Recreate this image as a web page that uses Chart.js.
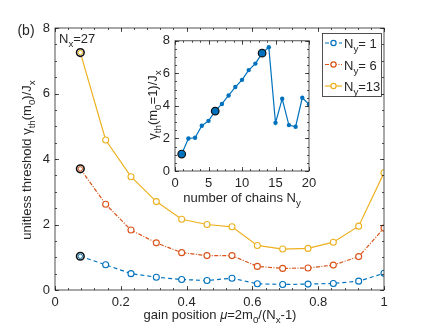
<!DOCTYPE html>
<html lang="en">
<head>
<meta charset="UTF-8">
<title>Gain threshold</title>
<script src="https://cdn.jsdelivr.net/npm/chart.js"></script>
<style>
    body { margin: 0; background: #fff; }
    #wrap { position: relative; width: 428px; height: 330px; }
    #main { position: absolute; left: 0; top: 0; }
    #inset { position: absolute; left: 130px; top: 28px; }
</style>
</head>
<body>
<div id="wrap">
    <canvas id="main" width="428" height="330"></canvas>
    <canvas id="inset" width="195" height="182"></canvas>
</div>
<script>
// gain position mu = 2 m0 / (Nx - 1), Nx = 27
const mu = [0.077, 0.154, 0.231, 0.308, 0.385, 0.462, 0.538, 0.615, 0.692, 0.769, 0.846, 0.923, 1.0];
const ny1 = [1.03, 0.77, 0.50, 0.39, 0.32, 0.29, 0.36, 0.19, 0.17, 0.18, 0.20, 0.27, 0.51];
const ny6 = [3.70, 2.62, 1.83, 1.44, 1.14, 1.05, 1.05, 0.72, 0.66, 0.67, 0.76, 1.02, 1.89];
const ny13 = [7.25, 4.58, 3.46, 2.70, 2.16, 2.00, 1.93, 1.36, 1.25, 1.27, 1.46, 1.95, 3.58];
const seriesNames = ['1', '6', '13'];

// inset: threshold at m0 = 1 vs number of chains
const chains = [1, 2, 3, 4, 5, 6, 7, 8, 9, 10, 11, 12, 13, 14, 15, 16, 17, 18, 19, 20];
const thrM1 = [1.04, 2.0, 2.04, 2.78, 3.08, 3.68, 4.12, 4.64, 5.16, 5.6, 6.2, 6.6, 7.24, 7.6, 2.96, 4.44, 2.82, 2.72, 4.5, 4.1];
const marked = [1, 6, 13];

const INK = '#262626';
const FONT = '"Liberation Sans", Arial, sans-serif';
const BLUE = '#0072BD', ORANGE = '#D95319', YELLOW = '#EDB120';

// draw text with subscripts: parts = [[text, 'n'|'s'|'i'], ...]
function rich(ctx, parts, x, y, size, align) {
    const fontFor = (k) => (k === 'i' ? 'italic ' : '') + (k === 's' ? size * 0.75 : size) + 'px ' + FONT;
    let w = 0;
    parts.forEach(p => { ctx.font = fontFor(p[1]); w += ctx.measureText(p[0]).width; });
    let cx = align === 'center' ? x - w / 2 : x;
    ctx.textAlign = 'left';
    ctx.textBaseline = 'alphabetic';
    parts.forEach(p => {
        ctx.font = fontFor(p[1]);
        ctx.fillText(p[0], cx, p[1] === 's' ? y + size * 0.32 : y);
        cx += ctx.measureText(p[0]).width;
    });
}

function rotated(ctx, parts, x, y, size) {
    ctx.save();
    ctx.translate(x, y);
    ctx.rotate(-Math.PI / 2);
    rich(ctx, parts, 0, size * 0.35, size, 'center');
    ctx.restore();
}

// box + inward major/minor ticks on all four sides
function drawFrame(chart, xMinor, yMinor) {
    const { ctx, chartArea: a, scales } = chart;
    const xs = scales.x, ys = scales.y;
    ctx.save();
    ctx.strokeStyle = INK;
    ctx.lineWidth = 0.8;
    ctx.strokeRect(a.left, a.top, a.right - a.left, a.bottom - a.top);
    ctx.beginPath();
    const tick = (v, len, horiz) => {
        if (horiz) {
            const p = Math.round(xs.getPixelForValue(v)) + 0.5;
            ctx.moveTo(p, a.bottom); ctx.lineTo(p, a.bottom - len);
            ctx.moveTo(p, a.top); ctx.lineTo(p, a.top + len);
        } else {
            const p = Math.round(ys.getPixelForValue(v)) + 0.5;
            ctx.moveTo(a.left, p); ctx.lineTo(a.left + len, p);
            ctx.moveTo(a.right, p); ctx.lineTo(a.right - len, p);
        }
    };
    for (let v = xs.min; v <= xs.max + 1e-9; v += xMinor) tick(v, 2, true);
    for (let v = ys.min; v <= ys.max + 1e-9; v += yMinor) tick(v, 2, false);
    xs.ticks.forEach(t => tick(t.value, 4, true));
    ys.ticks.forEach(t => tick(t.value, 4, false));
    ctx.stroke();
    ctx.restore();
}

const mainDecor = {
    id: 'mainDecor',
    afterDraw(chart) {
        const ctx = chart.ctx;
        drawFrame(chart, 0.04, 0.5);
        ctx.save();
        ctx.fillStyle = INK;
        ctx.font = '14px ' + FONT;
        ctx.textAlign = 'center';
        ctx.textBaseline = 'middle';
        ctx.fillText('(b)', 26, 31);
        rich(ctx, [['N', 'n'], ['x', 's'], ['=27', 'n']], 59, 43, 13, 'left');
        rich(ctx, [['gain position ', 'n'], ['μ', 'i'], ['=2m', 'n'], ['0', 's'], ['/(N', 'n'], ['x', 's'], ['-1)', 'n']], 220, 319, 13, 'center');
        rotated(ctx, [['unitless threshold ', 'n'], ['γ', 'n'], ['th', 's'], ['(m', 'n'], ['0', 's'], [')/J', 'n'], ['x', 's']], 26, 160, 13);

        // legend
        const lx = 322, ly = 33, lw = 59, lh = 63;
        ctx.fillStyle = '#fff';
        ctx.fillRect(lx, ly, lw, lh);
        ctx.strokeStyle = INK;
        ctx.lineWidth = 0.8;
        ctx.strokeRect(lx + 0.5, ly + 0.5, lw, lh);
        chart.data.datasets.forEach((ds, i) => {
            const y = ly + 10 + i * 21.5;
            ctx.strokeStyle = ds.borderColor;
            ctx.lineWidth = 1.2;
            ctx.setLineDash(ds.borderDash || []);
            ctx.beginPath();
            ctx.moveTo(lx + 3, y); ctx.lineTo(lx + 20, y);
            ctx.stroke();
            ctx.setLineDash([]);
            ctx.fillStyle = '#fff';
            ctx.beginPath();
            ctx.arc(lx + 11.5, y, 2.6, 0, Math.PI * 2);
            ctx.fill();
            ctx.stroke();
            ctx.fillStyle = INK;
            const n = seriesNames[i];
            rich(ctx, [['N', 'n'], ['y', 's'], ['=' + (n.length < 2 ? ' ' : '') + n, 'n']], lx + 22, y + 5, 13, 'left');
        });

        // highlighted first points: inner coloured ring
        chart.data.datasets.forEach((ds, i) => {
            const el = chart.getDatasetMeta(i).data[0];
            ctx.strokeStyle = ds.borderColor;
            ctx.lineWidth = 1;
            ctx.beginPath();
            ctx.arc(el.x, el.y, 2.2, 0, Math.PI * 2);
            ctx.stroke();
        });
        ctx.restore();
    }
};

const insetDecor = {
    id: 'insetDecor',
    beforeDatasetsDraw(chart) {
        const a = chart.chartArea;
        chart.ctx.save();
        chart.ctx.fillStyle = '#fff';
        chart.ctx.fillRect(a.left, a.top, a.right - a.left, a.bottom - a.top);
        chart.ctx.restore();
    },
    afterDraw(chart) {
        const ctx = chart.ctx;
        drawFrame(chart, 1.25, 0.5);
        ctx.save();
        ctx.fillStyle = INK;
        rich(ctx, [['number of chains N', 'n'], ['y', 's']], 112, 174, 13, 'center');
        rotated(ctx, [['γ', 'n'], ['th', 's'], ['(m', 'n'], ['0', 's'], ['=1)/J', 'n'], ['x', 's']], 22, 77, 13);
        ctx.restore();
    }
};

function series(label, vals, color, dash) {
    return {
        label: label,
        data: mu.map((x, i) => ({ x: x, y: vals[i] })),
        borderColor: color,
        borderWidth: 1.2,
        borderDash: dash,
        backgroundColor: '#fff',
        pointBackgroundColor: '#fff',
        pointBorderColor: vals.map((v, i) => i === 0 ? '#111' : color),
        pointBorderWidth: vals.map((v, i) => i === 0 ? 1.6 : 1.1),
        pointRadius: vals.map((v, i) => i === 0 ? 3.8 : 3),
        tension: 0
    };
}

const tickFont = { family: FONT, size: 13 };

new Chart(document.getElementById('main'), {
    type: 'line',
    data: {
        datasets: [
            series('Ny= 1', ny1, BLUE, [4, 3]),
            series('Ny= 6', ny6, ORANGE, [4, 1.5, 1, 1.5]),
            series('Ny=13', ny13, YELLOW, [])
        ]
    },
    options: {
        responsive: false,
        animation: false,
        layout: { padding: { top: 28, right: 44, left: 0, bottom: 0 } },
        plugins: { legend: { display: false }, tooltip: { enabled: false } },
        scales: {
            x: {
                type: 'linear', min: 0, max: 1,
                grid: { display: false, drawTicks: false },
                border: { display: false },
                ticks: {
                    stepSize: 0.2, color: INK, font: tickFont, padding: 5, maxRotation: 0,
                    callback: (v) => String(Math.round(v * 10) / 10)
                },
                afterFit: (s) => { s.height = 40; }
            },
            y: {
                min: 0, max: 8,
                grid: { display: false, drawTicks: false },
                border: { display: false },
                ticks: { stepSize: 2, color: INK, font: tickFont, padding: 5 },
                afterFit: (s) => { s.width = 55; }
            }
        }
    },
    plugins: [mainDecor]
});

new Chart(document.getElementById('inset'), {
    type: 'line',
    data: {
        datasets: [{
            label: 'm0 = 1',
            data: chains.map((n, i) => ({ x: n, y: thrM1[i] })),
            borderColor: BLUE,
            borderWidth: 1.2,
            backgroundColor: BLUE,
            pointBackgroundColor: BLUE,
            pointBorderColor: chains.map(n => marked.includes(n) ? '#111' : BLUE),
            pointBorderWidth: chains.map(n => marked.includes(n) ? 1.2 : 0),
            pointRadius: chains.map(n => marked.includes(n) ? 3.8 : 2.2),
            tension: 0
        }]
    },
    options: {
        responsive: false,
        animation: false,
        layout: { padding: { top: 10, right: 16, left: 0, bottom: 0 } },
        plugins: { legend: { display: false }, tooltip: { enabled: false } },
        scales: {
            x: {
                type: 'linear', min: 0, max: 20,
                grid: { display: false, drawTicks: false },
                border: { display: false },
                ticks: { stepSize: 5, color: INK, font: tickFont, padding: 5, maxRotation: 0 },
                afterFit: (s) => { s.height = 39; }
            },
            y: {
                min: 0, max: 8,
                grid: { display: false, drawTicks: false },
                border: { display: false },
                ticks: { stepSize: 2, color: INK, font: tickFont, padding: 5 },
                afterFit: (s) => { s.width = 45; }
            }
        }
    },
    plugins: [insetDecor]
});
</script>
</body>
</html>
